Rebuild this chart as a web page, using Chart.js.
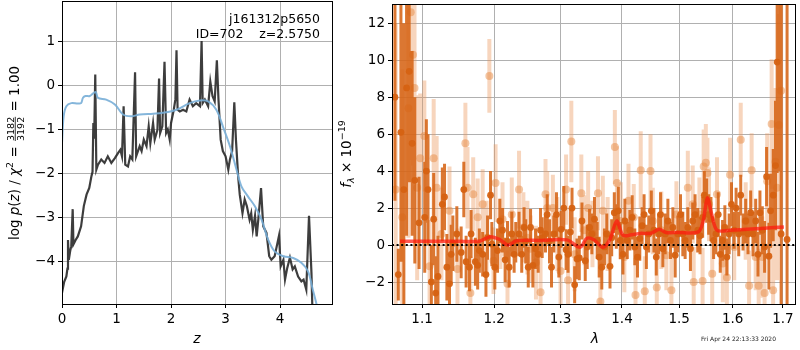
<!DOCTYPE html>
<html>
<head>
<meta charset="utf-8">
<script src="https://cdn.jsdelivr.net/npm/chart.js@4"></script>
<style>
  body { margin: 0; background: #fff; }
  #wrap { position: relative; width: 800px; height: 350px; }
  canvas { position: absolute; top: 0; }
  #pz { left: 0; }
  #spec { left: 335px; }
</style>
</head>
<body>
<div id="wrap">
  <canvas id="pz" width="335" height="350"></canvas>
  <canvas id="spec" width="465" height="350"></canvas>
</div>
<script>
// ---- left panel: log p(z) and prior
const zTicks = [0, 1, 2, 3, 4];
const lnpTicks = [-4, -3, -2, -1, 0, 1];

const zBlack = [0, 0.04, 0.08, 0.10, 0.11, 0.125, 0.15, 0.17, 0.196, 0.21,
  0.25, 0.29, 0.35, 0.40, 0.45, 0.50, 0.54, 0.56, 0.575, 0.59,
  0.61, 0.63, 0.66, 0.72, 0.78, 0.84, 0.905, 0.97, 1.03, 1.07,
  1.10, 1.13, 1.16, 1.21, 1.25, 1.29, 1.34, 1.36, 1.425, 1.46,
  1.50, 1.55, 1.59, 1.62, 1.67, 1.70, 1.75, 1.78, 1.80, 1.84,
  1.88, 1.91, 1.94, 1.975, 2.00, 2.05, 2.08, 2.10, 2.12, 2.16,
  2.22, 2.28, 2.34, 2.40, 2.46, 2.53, 2.56, 2.58, 2.62, 2.68,
  2.72, 2.76, 2.80, 2.84, 2.87, 2.91, 2.95, 3.00, 3.05, 3.08,
  3.12, 3.16, 3.19, 3.23, 3.26, 3.31, 3.35, 3.39, 3.44, 3.47,
  3.50, 3.54, 3.57, 3.60, 3.65, 3.69, 3.75, 3.80, 3.84, 3.90,
  3.98, 4.01, 4.06, 4.09, 4.13, 4.18, 4.23, 4.27, 4.33, 4.39,
  4.43, 4.48, 4.53, 4.575, 4.59, 4.64];
const lnpBlack = [-4.7, -4.45, -4.33, -4.15, -3.5, -3.95, -3.75, -3.64, -2.8, -3.6,
  -3.5, -3.42, -3.19, -2.73, -2.47, -2.32, -2.05, -1.95, -0.84, -1.2,
  0.26, -1.9, -1.79, -1.67, -1.75, -1.6, -1.75, -1.64, -1.52, -1.45,
  -1.6, -0.46, -1.79, -1.83, -1.6, -1.67, 0.31, -1.6, -1.37, -1.48,
  -1.22, -1.37, -0.92, -1.3, -0.84, -1.22, -1.0, 0.17, -1.07, -0.92,
  0.55, -1.07, -0.99, -1.22, -0.84, -0.54, -0.3, 0.81, -0.54, -0.58,
  -0.54, -0.58, -0.31, -0.46, -0.39, -0.46, 1.02, -0.39, -0.31, -0.46,
  0.1, -0.23, -0.35, 0.58, -0.31, -1.22, -1.48, -1.6, -1.9, -1.67,
  -1.48, -0.37, -1.22, -2.05, -2.47, -2.89, -2.58, -2.73, -3.04, -2.89,
  -3.27, -2.95, -3.42, -3.04, -2.32, -3.19, -3.34, -3.87, -3.95, -3.87,
  -3.4, -4.1, -3.95, -4.4, -4.14, -3.9, -4.17, -4.1, -4.33, -4.44,
  -4.4, -4.63, -2.95, -4.25, -4.97, -5.6];

const zBlue = [0, 0.03, 0.08, 0.17, 0.29, 0.35, 0.385, 0.43, 0.51, 0.57,
  0.62, 0.66, 0.81, 0.97, 1.12, 1.27, 1.425, 1.67, 1.85, 2.10,
  2.34, 2.53, 2.68, 2.83, 2.95, 3.08, 3.20, 3.29, 3.41, 3.535,
  3.66, 3.78, 3.90, 4.06, 4.24, 4.39, 4.51, 4.60, 4.67, 4.73];
const lnpBlue = [-1.3, -0.69, -0.46, -0.39, -0.40, -0.39, -0.27, -0.23, -0.23, -0.17,
  -0.14, -0.27, -0.31, -0.42, -0.65, -0.69, -0.65, -0.63, -0.61, -0.54,
  -0.39, -0.33, -0.35, -0.54, -0.92, -1.37, -1.9, -2.28, -2.51, -2.73,
  -3.04, -3.49, -3.76, -3.87, -3.91, -4.02, -4.21, -4.63, -4.97, -5.31];

// ---- right panel: spectrum
const lamTicks = [1.1, 1.2, 1.3, 1.4, 1.5, 1.6, 1.7];
const fluxTicks = [-2, 0, 2, 4, 6, 8, 10, 12];

const lamDark = [1.0646, 1.0689, 1.0723, 1.0761, 1.0796, 1.0830, 1.0869, 1.0904, 1.0960, 1.1035,
  1.1057, 1.1079, 1.1124, 1.1155, 1.1182, 1.1213, 1.1272, 1.1302, 1.1334, 1.1370,
  1.1393, 1.1416, 1.1471, 1.1531, 1.1568, 1.1600, 1.1647, 1.1670, 1.1730, 1.1763,
  1.1787, 1.1834, 1.1881, 1.1904, 1.1947, 1.1966, 1.2009, 1.2048, 1.2082, 1.2121,
  1.2159, 1.2194, 1.2218, 1.2257, 1.2292, 1.2316, 1.2365, 1.2405, 1.2440, 1.2465,
  1.2503, 1.2538, 1.2573, 1.2614, 1.2654, 1.2690, 1.2715, 1.2766, 1.2792, 1.2828,
  1.2859, 1.2895, 1.2936, 1.2973, 1.3009, 1.3051, 1.3087, 1.3118, 1.3155, 1.3181,
  1.3223, 1.3260, 1.3297, 1.3340, 1.3393, 1.3425, 1.3463, 1.3500, 1.3543, 1.3587,
  1.3620, 1.3663, 1.3707, 1.3745, 1.3799, 1.3827, 1.3871, 1.3904, 1.3938, 1.3971,
  1.4016, 1.4049, 1.4089, 1.4134, 1.4173, 1.4218, 1.4264, 1.4304, 1.4344, 1.4378,
  1.4418, 1.4459, 1.4504, 1.4550, 1.4591, 1.4632, 1.4667, 1.4708, 1.4749, 1.4797,
  1.4844, 1.4886, 1.4928, 1.4976, 1.5024, 1.5066, 1.5108, 1.5157, 1.5205, 1.5247,
  1.5290, 1.5339, 1.5382, 1.5431, 1.5462, 1.5505, 1.5543, 1.5586, 1.5636, 1.5680,
  1.5724, 1.5762, 1.5806, 1.5850, 1.5888, 1.5933, 1.5977, 1.6027, 1.6066, 1.6117,
  1.6156, 1.6201, 1.6253, 1.6299, 1.6351, 1.6397, 1.6450, 1.6496, 1.6535, 1.6582,
  1.6628, 1.6668, 1.6715, 1.6748, 1.6802, 1.6848, 1.6882, 1.6916, 1.6963, 1.7085];
const fluxDark = [8.0, -1.6, 6.1, 3.0, 8.5, 9.4, 5.5, 3.5, 1.2, 1.5,
  4.0, 3.0, -2.0, 1.4, -2.6, -1.7, 2.2, 2.6, -1.2, -2.1,
  -0.5, 0.1, 0.6, -0.4, 3.0, -0.9, -1.2, 0.6, -0.9, -1.1,
  -0.3, -0.5, -1.6, 0.4, 2.7, 0.05, -1.2, -0.3, 1.3, 0.8,
  -0.8, 0.2, -1.2, 0.6, -0.5, 0.15, 0.6, -0.5, 0.95, 0.2,
  -1.2, 0.95, -1.1, -0.2, -0.5, 0.8, 0.4, 0.6, 1.65, 0.2,
  -1.2, 0.6, 1.65, -0.65, 0.85, 2.0, -0.25, -0.5, 0.7, 2.0,
  -2.15, -0.75, -0.7, 1.3, -0.85, -0.1, 0.95, 0.6, 1.4, 0.25,
  -0.65, -1.2, -0.1, 0.6, -1.15, 0.4, 1.75, 1.0, 1.85, 0.25,
  -0.5, 1.3, 0.25, 0.8, 1.5, -0.1, -0.65, 0.35, 1.05, 1.65,
  -0.1, 0.6, 1.85, 0.8, -0.65, 0.6, 1.65, -0.2, 0.6, 1.3,
  0.25, 0.95, -0.55, 0.6, 1.65, 0.6, 0.25, 0.95, -0.2, 1.3,
  1.65, 0.8, 0.5, 1.5, 2.7, 2.4, 1.65, 1.4, 0.25, 0.6,
  1.65, -0.5, 0.25, 0.95, -0.65, 0.6, 2.2, 0.8, 2.0, 0.6,
  2.7, 0.7, 1.3, 0.6, 1.75, 0.6, 1.3, -0.5, 1.75, 0.8,
  -0.1, 3.7, -0.6, 1.85, 2.7, 4.3, 9.9, 14.0, 0.6, 0.3];
const errDark = [5.6, 1.4, 7.0, 9.0, 8.0, 6.0, 5.0, 4.5, 2.5, 3.0,
  2.8, 3.0, 2.0, 2.5, 2.0, 2.2, 2.0, 1.8, 1.8, 1.6,
  1.6, 1.5, 1.5, 1.4, 1.5, 1.4, 1.3, 1.3, 1.3, 1.3,
  1.2, 1.2, 1.2, 1.2, 1.3, 1.2, 1.2, 1.2, 1.2, 1.2,
  1.2, 1.1, 1.1, 1.2, 1.0, 1.1, 1.2, 1.0, 1.1, 1.2,
  1.1, 1.0, 1.2, 1.1, 1.0, 1.2, 1.1, 1.0, 1.1, 1.2,
  1.1, 1.0, 1.2, 1.1, 1.0, 1.2, 1.1, 1.0, 1.3, 1.1,
  1.0, 1.1, 1.2, 1.0, 1.1, 1.2, 1.0, 1.1, 1.2, 1.0,
  1.1, 1.2, 1.0, 1.1, 1.2, 1.0, 1.1, 1.2, 1.3, 1.0,
  1.1, 1.2, 1.0, 1.1, 1.2, 1.0, 1.1, 1.2, 1.0, 1.1,
  1.2, 1.0, 1.1, 1.2, 1.0, 1.1, 1.2, 1.0, 1.1, 1.2,
  1.0, 1.1, 1.2, 1.0, 1.1, 1.2, 1.0, 1.1, 1.2, 1.0,
  1.1, 1.2, 1.0, 1.1, 1.3, 1.2, 1.1, 1.2, 1.0, 1.1,
  1.2, 1.0, 1.1, 1.2, 1.0, 1.1, 1.2, 1.0, 1.1, 1.2,
  1.1, 1.0, 1.2, 1.1, 1.2, 1.2, 1.2, 1.2, 1.2, 1.3,
  1.4, 1.6, 1.8, 2.0, 2.5, 3.5, 6.0, 10.0, 15.0, 20.0];

const lamLight = [1.0655, 1.0740, 1.0820, 1.0850, 1.0880, 1.0900, 1.0935, 1.0975, 1.1030, 1.1100,
  1.1155, 1.1195, 1.1260, 1.1370, 1.1480, 1.1590, 1.1620, 1.1660, 1.1700, 1.1763,
  1.1834, 1.1890, 1.1930, 1.1990, 1.2020, 1.2090, 1.2121, 1.2194, 1.2257, 1.2365,
  1.2430, 1.2490, 1.2538, 1.2620, 1.2690, 1.2766, 1.2792, 1.2880, 1.2950, 1.3000,
  1.3087, 1.3118, 1.3170, 1.3223, 1.3330, 1.3380, 1.3440, 1.3510, 1.3600, 1.3640,
  1.3680, 1.3760, 1.3880, 1.3915, 1.3980, 1.4040, 1.4110, 1.4200, 1.4230, 1.4320,
  1.4390, 1.4490, 1.4530, 1.4600, 1.4680, 1.4770, 1.4860, 1.4950, 1.5157, 1.5247,
  1.5265, 1.5370, 1.5430, 1.5450, 1.5490, 1.5520, 1.5550, 1.5610, 1.5700, 1.5810,
  1.5888, 1.5950, 1.6030, 1.6156, 1.6253, 1.6320, 1.6370, 1.6450, 1.6510, 1.6582,
  1.6628, 1.6680, 1.6770, 1.6800, 1.6848, 1.6880, 1.6920, 1.6963];
const fluxLight = [3.0, 1.5, 7.4, 12.6, 10.3, 8.5, 3.1, 4.7, 5.9, -1.15,
  4.7, 3.1, 0.6, 1.85, -1.3, 5.5, 3.1, -2.6, 2.75, 1.5,
  2.2, 0.4, 9.15, -0.85, 3.35, 0.6, 1.4, -2.1, 1.65, 3.0,
  0.95, 0.4, -0.2, -0.95, -2.55, 2.75, 2.0, 2.0, 0.6, -1.4,
  3.0, -1.9, 5.6, -0.5, 2.8, 0.8, 2.0, 0.6, 2.8, -3.05,
  1.85, 0.6, 5.3, 3.35, 1.3, -0.65, 2.4, 1.5, -2.7, 4.05,
  -2.5, 4.0, 1.3, -2.3, 0.8, -0.55, -2.45, 1.65, 3.1, 2.2,
  -2.0, 1.65, -1.95, 4.25, 4.45, 3.9, 2.2, -1.55, 2.75, -1.0,
  -1.75, 3.8, -0.1, 5.7, 1.3, -2.2, 4.05, -0.65, -2.2, -0.65,
  -2.6, 3.45, 6.55, -2.45, 4.5, 3.1, 6.5, 8.35];
const errLight = [9.0, 8.0, 7.0, 8.0, 6.0, 5.0, 5.0, 3.5, 3.0, 2.5,
  3.2, 2.8, 2.5, 2.4, 2.2, 2.2, 2.2, 2.0, 2.0, 2.1,
  1.9, 2.0, 2.0, 1.8, 2.1, 1.9, 2.0, 1.8, 2.0, 2.1,
  1.9, 2.0, 1.8, 2.0, 2.1, 1.9, 2.0, 1.8, 2.0, 2.1,
  1.9, 2.0, 2.2, 2.0, 2.1, 1.9, 2.0, 1.8, 2.0, 2.1,
  1.9, 2.0, 2.0, 2.0, 2.1, 1.9, 2.0, 1.8, 2.0, 2.1,
  1.9, 2.0, 1.8, 2.0, 2.1, 1.9, 2.0, 1.8, 2.0, 2.1,
  1.9, 2.0, 1.8, 2.0, 2.1, 1.9, 2.0, 1.8, 2.0, 2.1,
  1.9, 2.0, 1.8, 2.0, 2.1, 1.9, 2.0, 1.8, 2.0, 2.2,
  2.4, 2.6, 3.5, 3.5, 4.0, 5.0, 6.0, 8.0];

const lamModel = [1.071, 1.10, 1.15, 1.18, 1.194, 1.208, 1.22, 1.233, 1.27, 1.31,
  1.331, 1.342, 1.354, 1.368, 1.38, 1.391, 1.40, 1.405, 1.43, 1.45,
  1.464, 1.476, 1.498, 1.535, 1.544, 1.552, 1.56, 1.57, 1.594, 1.662, 1.702];
const fluxModel = [0.2, 0.2, 0.2, 0.22, 0.45, 0.3, 0.0, 0.23, 0.25, 0.28,
  -0.12, 0.37, 0.27, -0.12, 0.32, 1.3, 0.6, 0.5, 0.63, 0.64,
  0.86, 0.68, 0.68, 0.71, 1.3, 2.55, 1.66, 0.8, 0.8, 0.91, 0.98];

const FAMILY = '"DejaVu Sans"';
const tickFont = { family: 'DejaVu Sans', size: 13.5 };
const minus = v => String(v).replace('-', '\u2212');

function pairs(xs, ys) { return xs.map((x, i) => ({ x: x, y: ys[i] })); }
function errorSegments(lam, flux, err) {
  const pts = [];
  lam.forEach((l, i) => {
    pts.push({ x: l, y: flux[i] - err[i] }, { x: l, y: flux[i] + err[i] }, { x: l, y: null });
  });
  return pts;
}

// text with mixed fonts, centred on (cx, cy), optionally rotated
function richText(ctx, parts, cx, cy, angle) {
  ctx.save();
  ctx.translate(cx, cy);
  ctx.rotate(angle);
  let total = 0;
  parts.forEach(p => {
    ctx.font = p.font;
    p.w = p.num ? Math.max(ctx.measureText(p.num).width, ctx.measureText(p.den).width) + 2
                : ctx.measureText(p.t).width;
    total += p.w;
  });
  let x = -total / 2;
  ctx.fillStyle = '#000';
  ctx.textBaseline = 'alphabetic';
  parts.forEach(p => {
    ctx.font = p.font;
    if (p.num) {
      ctx.textAlign = 'center';
      ctx.fillText(p.num, x + p.w / 2, -0.5);
      ctx.fillText(p.den, x + p.w / 2, 9.5);
      ctx.fillRect(x + 1, 0.8, p.w - 2, 0.8);
    } else {
      ctx.textAlign = 'left';
      ctx.fillText(p.t, x, p.dy === undefined ? 5 : p.dy);
    }
    x += p.w;
  });
  ctx.restore();
}

function frame(chart) {
  const a = chart.chartArea, ctx = chart.ctx;
  ctx.save();
  ctx.strokeStyle = '#000';
  ctx.lineWidth = 1;
  ctx.strokeRect(a.left + 0.5, a.top + 0.5, a.right - a.left - 1, a.bottom - a.top);
  ctx.restore();
}

function axisOpts(min, max, tickList, extra) {
  return Object.assign({
    type: 'linear', min: min, max: max,
    afterBuildTicks: s => { s.ticks = tickList.map(v => ({ value: v })); },
    grid: { color: '#b0b0b0', lineWidth: 1, tickColor: '#000', tickLength: 4, drawTicks: true },
    border: { display: false },
    ticks: { font: tickFont, color: '#000', autoSkip: false, maxRotation: 0, callback: v => minus(v) }
  }, extra);
}

const common = {
  responsive: false,
  animation: false,
  events: [],
  plugins: { legend: { display: false }, tooltip: { enabled: false } }
};

// ---------- left chart
new Chart(document.getElementById('pz'), {
  type: 'line',
  data: {
    datasets: [
      { data: pairs(zBlue, lnpBlue), borderColor: 'rgba(120,174,215,0.9)', borderWidth: 2, pointRadius: 0, tension: 0.35 },
      { data: pairs(zBlack, lnpBlack), borderColor: 'rgba(45,45,45,0.92)', borderWidth: 2.2, pointRadius: 0, tension: 0 }
    ]
  },
  options: Object.assign({}, common, {
    layout: { padding: { top: 1, right: 2, left: 0, bottom: 0 } },
    scales: {
      x: axisOpts(0, 4.97, zTicks, {
        afterFit: s => { s.height = 46; s.paddingLeft = 0; s.paddingRight = 0; }
      }),
      y: axisOpts(-4.955, 1.93, lnpTicks, {
        afterFit: s => { s.width = 62; s.paddingTop = 0; s.paddingBottom = 0; }
      })
    }
  }),
  plugins: [{
    id: 'pzDecor',
    afterDraw(chart) {
      const ctx = chart.ctx;
      frame(chart);
      ctx.save();
      ctx.fillStyle = '#000';
      ctx.textAlign = 'right';
      ctx.textBaseline = 'middle';
      ctx.font = '12.5px ' + FAMILY;
      ctx.fillText('j161312p5650', 320, 20);
      ctx.fillText('ID=702    z=2.5750', 320, 35);
      ctx.textAlign = 'center';
      ctx.font = 'italic 14px ' + FAMILY;
      ctx.fillText('z', 197, 339);
      ctx.restore();
      const F = '13.5px ' + FAMILY, I = 'italic 13.5px ' + FAMILY, S = '9.5px ' + FAMILY;
      richText(ctx, [
        { t: 'log ', font: F }, { t: 'p', font: I }, { t: '(', font: F }, { t: 'z', font: I },
        { t: ') / ', font: F }, { t: '\u03c7', font: I }, { t: '2', font: S, dy: -1 },
        { t: ' = ', font: F }, { num: '3182', den: '3192', font: S }, { t: ' = 1.00', font: F }
      ], 14, 153, -Math.PI / 2);
    }
  }]
});

// ---------- right chart
new Chart(document.getElementById('spec'), {
  type: 'line',
  data: {
    datasets: [
      { data: pairs(lamModel, fluxModel), borderColor: 'rgba(255,25,15,0.72)', borderWidth: 3.5, pointRadius: 0, tension: 0.3 },
      { data: [{ x: 1.0608, y: 0 }, { x: 1.727, y: 0 }], borderColor: '#000', borderWidth: 2, borderDash: [2, 2.6], pointRadius: 0 },
      { data: pairs(lamDark, fluxDark), showLine: false, pointRadius: 3.4, pointBorderWidth: 0, pointBackgroundColor: 'rgba(214,98,18,0.95)' },
      { data: errorSegments(lamDark, fluxDark, errDark), borderColor: 'rgba(214,100,22,0.88)', borderWidth: 3, pointRadius: 0, spanGaps: false },
      { data: pairs(lamLight, fluxLight), showLine: false, pointRadius: 4, pointBorderWidth: 0, pointBackgroundColor: 'rgba(232,140,70,0.5)' },
      { data: errorSegments(lamLight, fluxLight, errLight), borderColor: 'rgba(236,150,90,0.4)', borderWidth: 4, pointRadius: 0, spanGaps: false }
    ]
  },
  options: Object.assign({}, common, {
    layout: { padding: { top: 1, right: 1, left: 0, bottom: 0 } },
    scales: {
      x: axisOpts(1.0608, 1.727, lamTicks, {
        type: 'logarithmic',
        afterFit: s => { s.height = 46; s.paddingLeft = 0; s.paddingRight = 0; },
        ticks: { font: tickFont, color: '#000', autoSkip: false, maxRotation: 0, callback: v => Number(v).toFixed(1) }
      }),
      y: axisOpts(-3.19, 13.04, fluxTicks, {
        afterFit: s => { s.width = 57; s.paddingTop = 0; s.paddingBottom = 0; }
      })
    }
  }),
  plugins: [{
    id: 'specDecor',
    afterDraw(chart) {
      const ctx = chart.ctx;
      frame(chart);
      ctx.save();
      ctx.fillStyle = '#000';
      ctx.textAlign = 'center';
      ctx.textBaseline = 'middle';
      ctx.font = 'italic 14px ' + FAMILY;
      ctx.fillText('\u03bb', 260, 339);
      ctx.textAlign = 'left';
      ctx.font = '6px ' + FAMILY;
      ctx.fillStyle = '#222';
      ctx.fillText('Fri Apr 24 22:13:33 2020', 366, 339);
      ctx.restore();
      const F = '13.5px ' + FAMILY, I = 'italic 13.5px ' + FAMILY, S = '9.5px ' + FAMILY;
      richText(ctx, [
        { t: 'f', font: I }, { t: '\u03bb', font: 'italic 9.5px ' + FAMILY, dy: 8 },
        { t: ' \u00d7 10', font: F }, { t: '\u221219', font: S, dy: -1 }
      ], 11, 154, -Math.PI / 2);
    }
  }]
});
</script>
</body>
</html>
